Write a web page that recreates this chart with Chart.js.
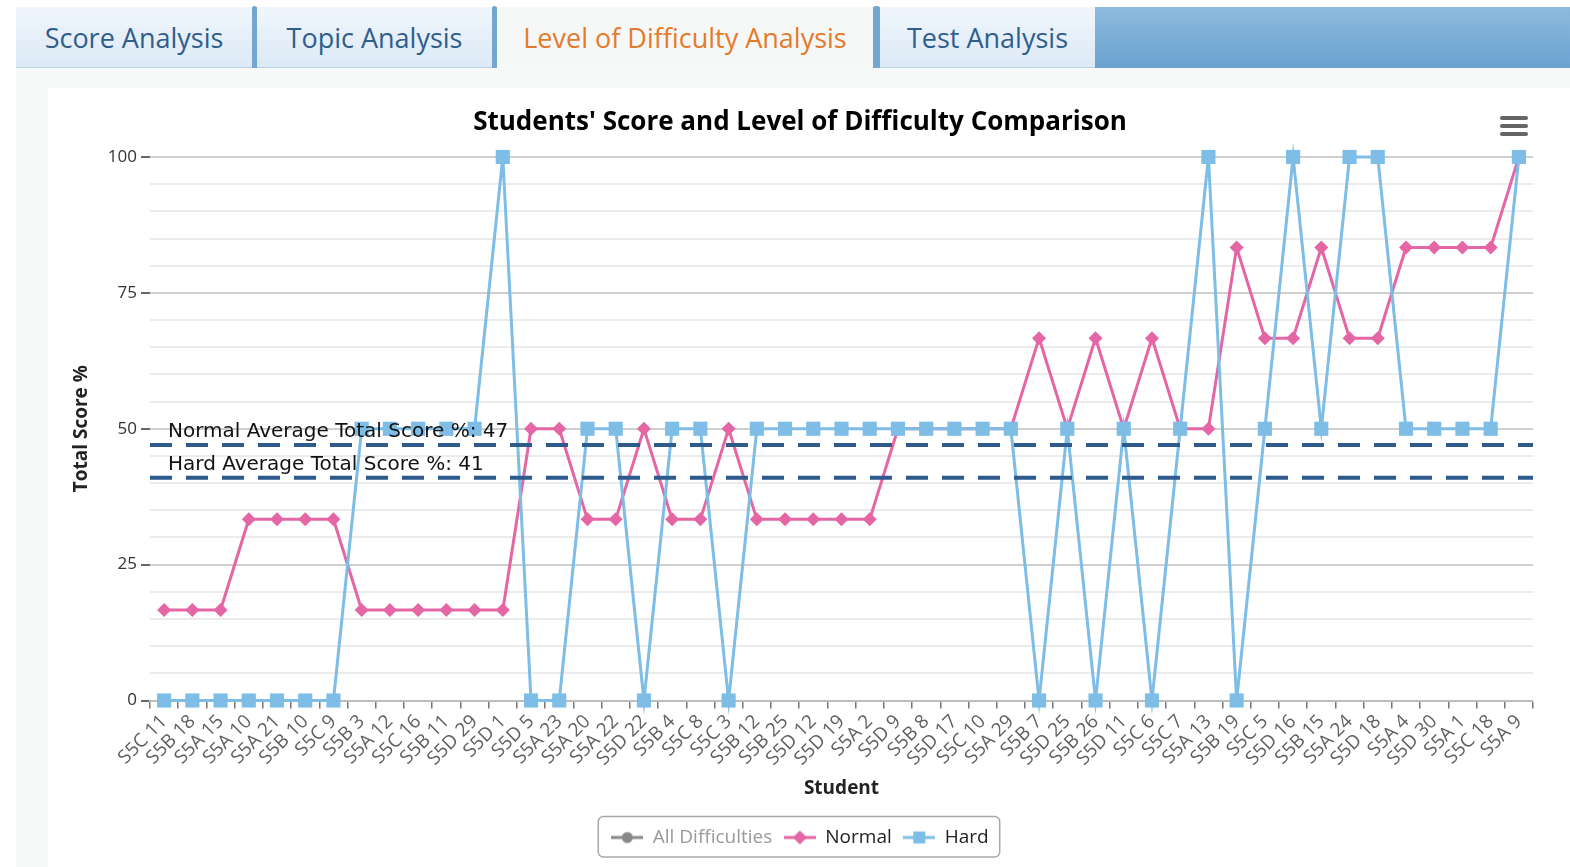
<!DOCTYPE html>
<html>
<head>
<meta charset="utf-8">
<script src="https://cdn.jsdelivr.net/npm/chart.js@4.4.1/dist/chart.umd.min.js"></script>
<style>
    html, body { margin: 0; padding: 0; background: #fff; }
    body { width: 1570px; height: 867px; position: relative; overflow: hidden; font-family: 'Open Sans', sans-serif; }
    .tab-bar {
        position: absolute; left: 16px; top: 7px; width: 1554px; height: 61px;
        background: linear-gradient(#8dbadd, #6aa3d1);
    }
    .tab {
        position: absolute; top: 0; height: 61px; line-height: 62px; text-align: center;
        font-size: 27px; color: #2f5e8c;
        background: linear-gradient(#f0f6fc, #dce9f6);
        border-bottom: 1px solid #b9d3ea;
        box-sizing: border-box;
    }
    .tab.active { background: #f6f8f8; color: #e57a2b; border-bottom: none; }
    .sep {
        position: absolute; top: -1px; width: 5px; height: 62px;
        background: #74a6d2; border-radius: 3px 3px 0 0;
    }
    .panel { position: absolute; left: 16px; top: 68px; width: 1554px; height: 799px; background: #f7f9f9; }
    .panel-inner { position: absolute; left: 32px; top: 20px; right: 0; bottom: 0; background: #fff; }
    .chart-box { position: absolute; left: 67px; top: 88px; width: 1503px; height: 779px; }
</style>
</head>
<body>
<div class="tab-bar">
    <div class="tab" style="left:0;width:236px;">Score Analysis</div>
    <div class="sep" style="left:236px;"></div>
    <div class="tab" style="left:241px;width:235px;">Topic Analysis</div>
    <div class="sep" style="left:476px;"></div>
    <div class="tab active" style="left:481px;width:376px;">Level of Difficulty Analysis</div>
    <div class="sep" style="left:857px;width:7px;"></div>
    <div class="tab" style="left:864px;width:215px;">Test Analysis</div>
</div>
<div class="panel"><div class="panel-inner"></div></div>
<div class="chart-box"><canvas id="chart-difficulty"></canvas></div>

<script>
// --- Data ---
const students = [
    'S5C 11', 'S5B 18', 'S5A 15', 'S5A 10', 'S5A 21', 'S5B 10', 'S5C 9', 'S5B 3', 'S5A 12', 'S5C 16',
    'S5B 11', 'S5D 29', 'S5D 1', 'S5D 5', 'S5A 23', 'S5A 20', 'S5A 22', 'S5D 22', 'S5B 4', 'S5C 8',
    'S5C 3', 'S5B 12', 'S5B 25', 'S5D 12', 'S5D 19', 'S5A 2', 'S5D 9', 'S5B 8', 'S5D 17', 'S5C 10',
    'S5A 29', 'S5B 7', 'S5D 25', 'S5B 26', 'S5D 11', 'S5C 6', 'S5C 7', 'S5A 13', 'S5B 19', 'S5C 5',
    'S5D 16', 'S5B 15', 'S5A 24', 'S5D 18', 'S5A 4', 'S5D 30', 'S5A 1', 'S5C 18', 'S5A 9'
];

const normalScores = [
    16.67, 16.67, 16.67, 33.33, 33.33, 33.33, 33.33, 16.67, 16.67, 16.67,
    16.67, 16.67, 16.67, 50, 50, 33.33, 33.33, 50, 33.33, 33.33,
    50, 33.33, 33.33, 33.33, 33.33, 33.33, 50, 50, 50, 50,
    50, 66.67, 50, 66.67, 50, 66.67, 50, 50, 83.33, 66.67,
    66.67, 83.33, 66.67, 66.67, 83.33, 83.33, 83.33, 83.33, 100
];

const hardScores = [
    0, 0, 0, 0, 0, 0, 0, 50, 50, 50,
    50, 50, 100, 0, 0, 50, 50, 0, 50, 50,
    0, 50, 50, 50, 50, 50, 50, 50, 50, 50,
    50, 0, 50, 0, 50, 0, 50, 100, 0, 50,
    100, 50, 100, 100, 50, 50, 50, 50, 100
];

// series shown greyed out (hidden) in the legend
const allScores = [];

const averageLines = [
    { label: 'Normal Average Total Score %: 47', value: 47 },
    { label: 'Hard Average Total Score %: 41', value: 41 }
];

const yTickLabels = [0, 25, 50, 75, 100];

// --- Styles ---
const PINK = '#e466a5';
const BLUE = '#7dbde6';
const GREY = '#888888';
const AVG_COLOR = '#2e5a8c';

Chart.defaults.font.family = "'Open Sans', sans-serif";

// legend icon: short line with the series marker in the middle
const makeLegendIcon = (color, marker) => {
    const c = document.createElement('canvas');
    c.width = 32; c.height = 16;
    const g = c.getContext('2d');
    g.strokeStyle = color;
    g.lineWidth = 3;
    g.beginPath(); g.moveTo(0, 8); g.lineTo(32, 8); g.stroke();
    g.fillStyle = color;
    g.beginPath();
    if (marker === 'circle') {
        g.arc(16, 8, 5.5, 0, Math.PI * 2);
    } else if (marker === 'diamond') {
        g.moveTo(16, 1); g.lineTo(23, 8); g.lineTo(16, 15); g.lineTo(9, 8); g.closePath();
    } else {
        g.rect(10, 2, 12, 12);
    }
    g.fill();
    return c;
};

const legendIcons = [
    makeLegendIcon(GREY, 'circle'),
    makeLegendIcon(PINK, 'diamond'),
    makeLegendIcon(BLUE, 'square')
];

// --- Plugins ---
const averageLinePlugin = {
    id: 'averageLines',
    afterDatasetsDraw(chart) {
        const { ctx, chartArea, scales } = chart;
        ctx.save();
        averageLines.forEach(line => {
            const y = scales.y.getPixelForValue(line.value);
            ctx.strokeStyle = AVG_COLOR;
            ctx.lineWidth = 4;
            ctx.setLineDash([22, 14]);
            ctx.beginPath();
            ctx.moveTo(chartArea.left, y);
            ctx.lineTo(chartArea.right, y);
            ctx.stroke();

            ctx.setLineDash([]);
            ctx.fillStyle = '#111';
            ctx.font = "20px 'DejaVu Sans', sans-serif";
            ctx.textBaseline = 'bottom';
            ctx.textAlign = 'left';
            ctx.fillText(line.label, chartArea.left + 18, y - 3);
        });
        ctx.restore();
    }
};

const chromePlugin = {
    id: 'chrome',
    afterDraw(chart) {
        const { ctx, legend } = chart;
        ctx.save();
        // legend frame
        if (legend && legend.legendHitBoxes.length) {
            const boxes = legend.legendHitBoxes;
            const x0 = Math.min(...boxes.map(b => b.left)) - 13;
            const x1 = Math.max(...boxes.map(b => b.left + b.width)) + 11;
            ctx.strokeStyle = '#a8a8a8';
            ctx.lineWidth = 1.5;
            ctx.beginPath();
            ctx.roundRect(x0, legend.top, x1 - x0, legend.height, 5);
            ctx.stroke();
        }
        // export menu icon
        ctx.strokeStyle = '#666';
        ctx.lineWidth = 4;
        ctx.lineCap = 'round';
        [30, 38, 46].forEach(y => {
            ctx.beginPath();
            ctx.moveTo(1435, y);
            ctx.lineTo(1459, y);
            ctx.stroke();
        });
        ctx.restore();
    }
};

// --- Chart ---
const renderChart = () => {
    const el = document.getElementById('chart-difficulty');
    if (!el) return;

    new Chart(el, {
        type: 'line',
        data: {
            labels: students,
            datasets: [
                {
                    label: 'All Difficulties',
                    data: allScores,
                    hidden: true,
                    borderColor: GREY,
                    backgroundColor: GREY,
                    order: 2
                },
                {
                    label: 'Normal',
                    data: normalScores,
                    borderColor: PINK,
                    backgroundColor: PINK,
                    borderWidth: 3,
                    pointStyle: 'rectRot',
                    pointRadius: 7,
                    pointBorderWidth: 0,
                    tension: 0,
                    clip: false,
                    order: 1
                },
                {
                    label: 'Hard',
                    data: hardScores,
                    borderColor: BLUE,
                    backgroundColor: BLUE,
                    borderWidth: 3,
                    pointStyle: 'rect',
                    pointRadius: 10,
                    pointBorderWidth: 0,
                    tension: 0,
                    clip: false,
                    order: 0
                }
            ]
        },
        options: {
            responsive: true,
            maintainAspectRatio: false,
            animation: false,
            layout: { padding: { left: 0, right: 37, top: 0, bottom: 10 } },
            plugins: {
                tooltip: { enabled: false },
                title: {
                    display: true,
                    text: "Students' Score and Level of Difficulty Comparison",
                    color: '#000',
                    font: { size: 26, weight: 'bold' },
                    padding: { top: 19.4, bottom: 18.4 }
                },
                legend: {
                    position: 'bottom',
                    onClick: null,
                    labels: {
                        usePointStyle: true,
                        pointStyleWidth: 32,
                        padding: 11.5,
                        font: { size: 19 },
                        generateLabels: chart => chart.data.datasets.map((ds, i) => ({
                            text: ds.label,
                            pointStyle: legendIcons[i],
                            fillStyle: ds.borderColor,
                            strokeStyle: ds.borderColor,
                            lineWidth: 0,
                            hidden: false,
                            fontColor: ds.hidden ? '#999' : '#222',
                            datasetIndex: i
                        }))
                    }
                }
            },
            scales: {
                x: {
                    offset: true,
                    grid: { offset: true, drawOnChartArea: false, color: '#777', lineWidth: 1.5, tickLength: 8 },
                    border: { display: true, color: '#bdbdbd', width: 2 },
                    ticks: { minRotation: 45, maxRotation: 45, autoSkip: false, color: '#606060', font: { size: 19 }, padding: 2 },
                    title: { display: true, text: 'Student', color: '#222', font: { size: 19, weight: 'bold' }, padding: { top: 0, bottom: 17 } },
                    afterFit: scale => { scale.height = 116; }
                },
                y: {
                    min: 0,
                    max: 100,
                    ticks: {
                        stepSize: 5,
                        autoSkip: false,
                        color: '#333',
                        font: { size: 17 },
                        padding: 4,
                        callback: v => yTickLabels.includes(v) ? v : ''
                    },
                    grid: {
                        color: c => yTickLabels.includes(c.tick.value) ? '#cfcfcf' : '#ebebeb',
                        tickColor: c => yTickLabels.includes(c.tick.value) ? '#666' : 'rgba(0,0,0,0)',
                        lineWidth: 2,
                        tickLength: 9
                    },
                    border: { display: false },
                    title: { display: true, text: 'Total Score %', color: '#222', font: { size: 19, weight: 'bold' }, padding: { top: 3.6, bottom: 0 } },
                    afterFit: scale => { scale.width = 83; }
                }
            }
        },
        plugins: [averageLinePlugin, chromePlugin]
    });
};

document.addEventListener('DOMContentLoaded', renderChart);
</script>
</body>
</html>
